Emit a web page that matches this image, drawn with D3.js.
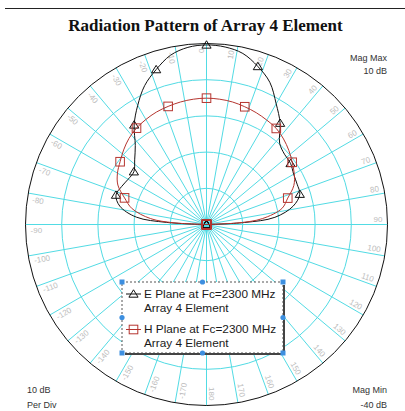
<!DOCTYPE html>
<html>
<head>
<meta charset="utf-8">
<script src="https://cdn.jsdelivr.net/npm/d3@7"></script>
<style>
  body { margin: 0; background: #fff; }
  svg { display: block; }
</style>
</head>
<body>
<svg id="chart" width="405" height="411"></svg>
<script>
// angles in degrees (0 = top, clockwise), magnitudes in dB
const angles = [-180, -162, -144, -126, -108, -90, -87, -84, -78, -72, -66, -60, -54, -48, -42, -36, -30, -24, -18, -12, -6,
  0, 6, 12, 18, 24, 30, 36, 42, 48, 54, 60, 66, 72, 78, 84, 87, 90, 108, 126, 144, 162, 180];
const ePlane = [-40, -40, -40, -40, -40, -40, -29, -20.5, -15.5, -13.7, -14.3, -15.0, -15.2, -13.3, -10.6, -6.0, -2.0, 2.0, 5.0, 7.8, 9.2,
  9.6, 9.3, 8.3, 5.9, 3.0, -1.5, -5.4, -9.8, -11.0, -11.3, -12.2, -12.6, -12.9, -15.5, -21.0, -29.5, -40, -40, -40, -40, -40, -40];
const hPlane = [-40, -40, -40, -40, -40, -40, -31, -24.5, -19, -16.2, -13.2, -11.6, -10.5, -9.2, -8.0, -7.1, -6.5, -6.0, -5.7, -5.4, -5.2,
  -5.1, -5.2, -5.4, -5.8, -6.2, -6.7, -7.2, -8.2, -9.4, -10.75, -12.0, -13.6, -16.4, -18.7, -24.5, -31, -40, -40, -40, -40, -40, -40];
const magTicks = [-30, -20, -10, 0];
const angleTicks = d3.range(-170, 181, 10);
const legendNames = ["E Plane at Fc=2300 MHz", "H Plane at Fc=2300 MHz"];
const legendSub = "Array 4 Element";

const svg = d3.select("#chart");
const cx = 206.5, cy = 224.5, R = 181;
const gridColor = "#52dbe4";
const eColor = "#111", hColor = "#b5352f";

const r = d3.scaleLinear().domain([-40, 10]).range([0, R]).clamp(true);
const ang = d3.scaleLinear().domain([-180, 180]).range([-Math.PI, Math.PI]);

// top rule + title
svg.append("line").attr("x1", 5).attr("x2", 405).attr("y1", 8.5).attr("y2", 8.5)
  .attr("stroke", "#222").attr("stroke-width", 1);
svg.append("text").attr("x", 205.5).attr("y", 31).attr("text-anchor", "middle")
  .style("font-family", "'Liberation Serif', 'Times New Roman', serif")
  .style("font-weight", "bold").style("font-size", "17px").attr("fill", "#111")
  .text("Radiation Pattern of Array 4 Element");

const g = svg.append("g").attr("transform", `translate(${cx},${cy})`);

// radial spokes
g.selectAll(".spoke").data(angleTicks).join("line")
  .attr("class", "spoke")
  .attr("x1", 0).attr("y1", 0)
  .attr("x2", d => R * Math.sin(ang(d)))
  .attr("y2", d => -R * Math.cos(ang(d)))
  .attr("stroke", gridColor).attr("stroke-width", 1);

// magnitude rings
g.selectAll(".ring").data(magTicks).join("circle")
  .attr("class", "ring")
  .attr("r", d => r(d)).attr("fill", "none")
  .attr("stroke", gridColor).attr("stroke-width", 1);

g.append("circle").attr("r", r(10)).attr("fill", "none")
  .attr("stroke", "#111").attr("stroke-width", 1);

// angle labels
const labR = R - 5;
g.selectAll(".alab").data(angleTicks).join("text")
  .attr("class", "alab")
  .attr("transform", d => {
    const a = ang(d - 1.8);
    const x = labR * Math.sin(a), y = -labR * Math.cos(a);
    const rot = d >= 0 ? d - 90 : d + 90;
    return `translate(${x},${y}) rotate(${rot})`;
  })
  .attr("text-anchor", d => d >= 0 ? "end" : "start")
  .attr("dy", "0.35em")
  .style("font-family", "'Liberation Sans', Arial, sans-serif")
  .style("font-size", "8px").attr("fill", "#bcbcbc")
  .text(d => d);

// traces
const series = [
  { name: legendNames[0], values: ePlane, color: eColor, marker: "tri" },
  { name: legendNames[1], values: hPlane, color: hColor, marker: "sq" }
];

const line = d3.lineRadial()
  .angle(d => ang(d.a))
  .radius(d => r(d.v))
  .curve(d3.curveCatmullRom);

function drawMarker(sel, type, color) {
  if (type === "tri") {
    sel.append("path").attr("d", "M0,-4.2L4.6,3.2L-4.6,3.2Z")
      .attr("fill", "none").attr("stroke", color).attr("stroke-width", 1);
  } else {
    sel.append("rect").attr("x", -4.3).attr("y", -4.3).attr("width", 8.6).attr("height", 8.6)
      .attr("fill", "none").attr("stroke", color).attr("stroke-width", 1);
  }
}

series.forEach(s => {
  const pts = angles.map((a, i) => ({ a, v: s.values[i] }));
  g.append("path").datum(pts).attr("d", line)
    .attr("fill", "none").attr("stroke", s.color).attr("stroke-width", 1);
  pts.filter(p => p.a % 18 === 0).forEach(p => {
    const rr = r(p.v), a = ang(p.a);
    const m = g.append("g").attr("transform", `translate(${rr * Math.sin(a)},${-rr * Math.cos(a)})`);
    drawMarker(m, s.marker, s.color);
  });
});

// corner notes
const note = (x, y, t, anchor) => svg.append("text").attr("x", x).attr("y", y)
  .attr("text-anchor", anchor)
  .style("font-family", "'Liberation Sans', Arial, sans-serif")
  .style("font-size", "9px").attr("fill", "#333").text(t);
note(387, 61, "Mag Max", "end");
note(387, 74, "10 dB", "end");
note(27, 393, "10 dB", "start");
note(27, 408, "Per Div", "start");
note(387, 393, "Mag Min", "end");
note(387, 408, "-40 dB", "end");

// legend box
const lx = 122, ly = 282, lw = 161, lh = 71;
const lg = svg.append("g");
lg.append("rect").attr("x", lx).attr("y", ly).attr("width", lw).attr("height", lh)
  .attr("fill", "#fff").attr("stroke", "#555").attr("stroke-width", 1)
  .attr("stroke-dasharray", "2,2");
lg.append("path").attr("d", `M${lx + lw + 1},${ly + 3}V${ly + lh + 1}H${lx + 3}`)
  .attr("fill", "none").attr("stroke", "#444").attr("stroke-width", 2);

const rows = [
  { s: series[0], y: 294, sub: 311.5 },
  { s: series[1], y: 329.5, sub: 347 }
];
rows.forEach(row => {
  lg.append("line").attr("x1", 126).attr("x2", 141).attr("y1", row.y).attr("y2", row.y)
    .attr("stroke", row.s.color).attr("stroke-width", 1);
  const m = lg.append("g").attr("transform", `translate(133.5,${row.y})`);
  drawMarker(m, row.s.marker, row.s.color);
  lg.append("text").attr("x", 144).attr("y", row.y + 3.8)
    .style("font-family", "'Liberation Sans', Arial, sans-serif")
    .style("font-size", "11.8px").attr("fill", "#1a1a1a").text(row.s.name);
  lg.append("text").attr("x", 144).attr("y", row.sub)
    .style("font-family", "'Liberation Sans', Arial, sans-serif")
    .style("font-size", "11.8px").attr("fill", "#1a1a1a").text(legendSub);
});

// selection handles
const handleColor = "#3d8fe0";
[[lx, ly], [lx + lw, ly], [lx, ly + lh], [lx + lw, ly + lh]].forEach(([x, y]) => {
  lg.append("rect").attr("x", x - 2.5).attr("y", y - 2.5).attr("width", 5).attr("height", 5)
    .attr("fill", handleColor);
});
[[lx + lw / 2, ly], [lx, ly + lh / 2], [lx + lw, ly + lh / 2], [lx + lw / 2, ly + lh]].forEach(([x, y]) => {
  lg.append("circle").attr("cx", x).attr("cy", y).attr("r", 2.6).attr("fill", handleColor);
});
</script>
</body>
</html>
